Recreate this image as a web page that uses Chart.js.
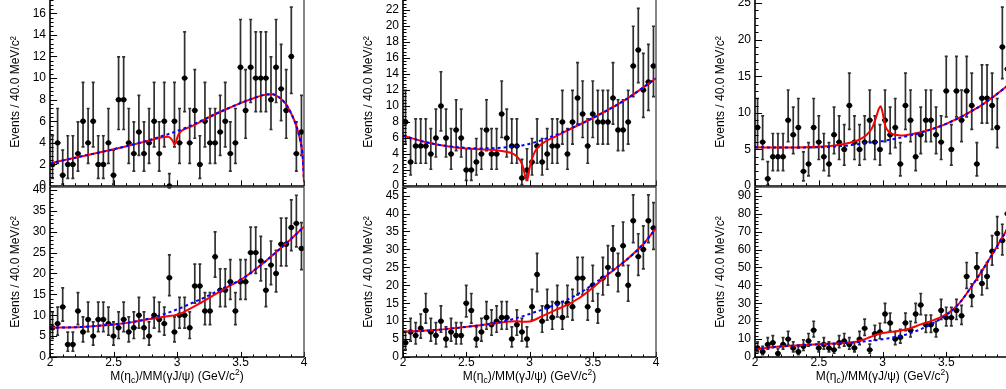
<!DOCTYPE html>
<html>
<head>
<meta charset="utf-8">
<title>M(eta_c) / MM(gamma J/psi) fits</title>
<script src="https://cdn.jsdelivr.net/npm/chart.js@4.4.0/dist/chart.umd.min.js"></script>
<style>
  html, body { margin: 0; padding: 0; background: #fff; }
  body { width: 1006px; height: 389px; overflow: hidden; position: relative; }
  canvas { position: absolute; }
</style>
</head>
<body>
<canvas id="pA"></canvas>
<canvas id="pB"></canvas>
<canvas id="pC"></canvas>
<canvas id="pD"></canvas>
<canvas id="pE"></canvas>
<canvas id="pF"></canvas>
<script>
// bin centres, 40 MeV bins from 2.0 to 4.0 GeV
const binX = [2.02, 2.06, 2.10, 2.14, 2.18, 2.22, 2.26, 2.30, 2.34, 2.38,
              2.42, 2.46, 2.50, 2.54, 2.58, 2.62, 2.66, 2.70, 2.74, 2.78,
              2.82, 2.86, 2.90, 2.94, 2.98, 3.02, 3.06, 3.10, 3.14, 3.18,
              3.22, 3.26, 3.30, 3.34, 3.38, 3.42, 3.46, 3.50, 3.54, 3.58,
              3.62, 3.66, 3.70, 3.74, 3.78, 3.82, 3.86, 3.90, 3.94, 3.98];
const binHalfWidth = 0.02;
const xTicks = [2, 2.5, 3, 3.5, 4];

// left column, top
const countsA = [2, 4, 1, 2, 2, 3, 6, 4, 6, 2, 2, 4, 1, 8, 8, 4, 3, 5, 3, 4, 6, 3, 6, 0, 6,
                 4, 10, 4, 7, 2, 6, 4, 4, 5, 6, 3, 4, 11, 7, 11, 10, 10, 10, 8, 11, 9, 7, 12, 3, 5];
const yTicksA = [0, 2, 4, 6, 8, 10, 12, 14, 16];
const curveXA = [2.00, 2.25, 2.50, 2.75, 2.85, 2.90, 2.93, 2.95, 2.97, 2.98, 2.99, 3.00, 3.01, 3.03, 3.06, 3.10,
                 3.15, 3.20, 3.30, 3.40, 3.50, 3.60, 3.68, 3.75, 3.80, 3.85, 3.90, 3.94, 3.97, 3.99, 4.00];
const bkgA = [2.10, 2.75, 3.40, 4.15, 4.50, 4.70, 4.80, 4.88, 4.96, 5.00, 5.05, 5.10, 5.14, 5.22, 5.36, 5.55,
              5.82, 6.10, 6.65, 7.18, 7.68, 8.12, 8.42, 8.50, 8.25, 7.70, 6.70, 5.55, 4.25, 2.70, 0.40];
const totA = [2.10, 2.75, 3.40, 4.12, 4.42, 4.55, 4.56, 4.42, 4.10, 3.88, 4.00, 4.40, 4.72, 5.05, 5.28, 5.45,
              5.74, 6.06, 6.65, 7.18, 7.68, 8.12, 8.42, 8.50, 8.25, 7.70, 6.70, 5.55, 4.25, 2.70, 0.40];

// left column, bottom
const countsB = [7, 8, 12, 3, 3, 11, 6, 9, 5, 9, 9, 8, 5, 7, 9, 6, 7, 10, 7, 5, 10, 9, 8, 19, 6,
                 10, 10, 7, 17, 17, 11, 11, 24, 16, 16, 18, 11, 18, 18, 25, 25, 23, 16, 22, 20, 27, 27, 31, 32, 26];
const yTicksB = [0, 5, 10, 15, 20, 25, 30, 35, 40];
const curveXB = [2.00, 2.25, 2.50, 2.65, 2.75, 2.85, 2.90, 2.95, 3.00, 3.05,
                 3.10, 3.20, 3.30, 3.40, 3.50, 3.60, 3.70, 3.80, 3.90, 4.00];
const bkgB = [7.0, 7.2, 7.8, 8.4, 9.0, 9.8, 10.3, 10.8, 11.4, 12.0,
              12.7, 14.0, 15.5, 17.0, 18.5, 20.6, 23.0, 25.6, 28.3, 31.2];
const totB = [7.0, 7.2, 7.8, 8.35, 8.9, 9.4, 9.65, 9.85, 10.1, 10.7,
              11.5, 13.2, 15.0, 16.8, 18.4, 20.6, 23.0, 25.6, 28.3, 31.2];

// middle column, top
const countsC = [8, 3, 5, 5, 5, 4, 6, 10, 6, 4, 7, 6, 2, 2, 3, 4, 7, 4, 4, 9, 6, 5, 5, 1, 2,
                 3, 5, 3, 4, 5, 5, 8, 4, 8, 11, 9, 5, 9, 8, 8, 8, 11, 7, 7, 8, 15, 17, 12, 13, 15];
const yTicksC = [0, 2, 4, 6, 8, 10, 12, 14, 16, 18, 20, 22];
const curveXC = [2.00, 2.20, 2.40, 2.60, 2.75, 2.85, 2.90, 2.93, 2.95, 2.96, 2.97,
                 2.98, 2.99, 3.00, 3.02, 3.05, 3.10, 3.20, 3.30, 3.50, 3.75, 4.00];
const bkgC = [6.3, 5.4, 4.9, 4.7, 4.75, 4.88, 4.98, 5.05, 5.1, 5.13, 5.16,
              5.2, 5.23, 5.27, 5.35, 5.5, 5.75, 6.35, 7.0, 8.5, 10.7, 13.45];
const totC = [6.3, 5.4, 4.85, 4.6, 4.45, 4.15, 3.7, 3.1, 2.3, 1.6, 1.0,
              0.75, 1.2, 2.2, 3.4, 4.5, 5.3, 6.15, 6.95, 8.5, 10.7, 13.45];

// middle column, bottom
const countsD = [4, 7, 6, 8, 13, 7, 6, 10, 5, 7, 6, 6, 15, 13, 5, 7, 11, 9, 10, 11, 11, 5, 9, 7, 5,
                 14, 23, 10, 14, 11, 15, 11, 15, 14, 22, 22, 14, 20, 13, 22, 25, 30, 23, 31, 20, 38, 28, 30, 38, 36];
const yTicksD = [0, 5, 10, 15, 20, 25, 30, 35, 40, 45];
const curveXD = [2.00, 2.25, 2.50, 2.75, 2.85, 2.90, 2.95, 3.00, 3.10, 3.20, 3.30, 3.40, 3.50, 3.60, 3.75, 3.90, 4.00];
const bkgD = [7.0, 7.5, 8.4, 9.6, 10.4, 10.9, 11.4, 12.0, 13.2, 14.5, 16.0, 17.9, 20.2, 22.7, 26.6, 31.5, 35.9];
const totD = [7.0, 7.5, 8.4, 9.5, 9.9, 9.95, 9.85, 9.9, 11.4, 13.0, 14.6, 16.6, 19.3, 22.4, 26.6, 31.5, 35.9];

// right column, top
const countsE = [8, 6, 1, 4, 4, 4, 9, 7, 8, 2, 3, 8, 6, 4, 3, 7, 6, 5, 11, 6, 5, 6, 9, 6, 5,
                 9, 7, 8, 3, 11, 9, 4, 7, 9, 9, 7, 6, 13, 5, 13, 9, 13, 11, 3, 12, 12, 11, 8, 19, 16];
const yTicksE = [0, 5, 10, 15, 20, 25];
const curveXE = [2.00, 2.25, 2.50, 2.70, 2.80, 2.87, 2.92, 2.95, 2.97, 2.985, 3.00,
                 3.02, 3.05, 3.10, 3.15, 3.20, 3.30, 3.50, 3.75, 3.90, 4.00];
const bkgE = [5.3, 5.25, 5.3, 5.5, 5.7, 5.85, 5.95, 6.0, 6.05, 6.1, 6.12,
              6.2, 6.3, 6.45, 6.65, 6.85, 7.3, 8.5, 10.75, 12.6, 14.0];
const totE = [5.3, 5.25, 5.35, 5.75, 6.2, 6.9, 8.0, 9.4, 10.5, 10.9, 10.1,
              8.3, 7.4, 7.0, 6.9, 7.0, 7.35, 8.5, 10.75, 12.6, 14.0];

// right column, bottom
const countsF = [5, 3, 7, 8, 2, 7, 10, 5, 3, 6, 9, 15, 5, 7, 5, 4, 8, 9, 7, 5, 10, 16, 4, 13, 14,
                 24, 19, 10, 11, 19, 15, 24, 29, 18, 18, 15, 26, 22, 22, 26, 23, 45, 34, 50, 41, 45, 59, 69, 65, 80];
const yTicksF = [0, 10, 20, 30, 40, 50, 60, 70, 80, 90];
const curveXF = [2.00, 2.10, 2.25, 2.50, 2.75, 2.80, 2.85, 2.90, 2.95, 3.00, 3.05,
                 3.10, 3.20, 3.30, 3.40, 3.50, 3.60, 3.70, 3.80, 3.90, 4.00];
const bkgF = [4.0, 5.2, 6.1, 7.1, 8.0, 8.3, 8.6, 9.0, 9.4, 9.9, 10.5,
              11.2, 12.9, 15.5, 19.0, 23.4, 29.8, 39.5, 50.3, 62.0, 74.0];
const totF = [4.0, 5.2, 6.1, 7.1, 8.1, 8.6, 9.6, 11.0, 12.4, 13.4, 13.9,
              14.2, 15.6, 18.2, 20.6, 23.8, 29.8, 39.5, 50.3, 62.0, 74.0];

const yTitle = 'Events / 40.0 MeV/c\u00b2';
const xTitleParts = [['M(\u03b7', 0], ['c', -1], [')/MM(\u03b3J/\u03c8) (GeV/c', 0], ['2', 1], [')', 0]];

const FONT = '"Liberation Sans", Arial, Helvetica, sans-serif';

// Poisson (Garwood-like) 68% interval on a bin count, as RooFit draws it
function poissonLo(n) { return n === 0 ? 0 : n * Math.pow(1 - 1 / (9 * n) - 1 / (3 * Math.sqrt(n)), 3); }
function poissonHi(n) { return n === 0 ? 1.15 : n + 1 + Math.sqrt(n + 0.75); }

function zip(xs, ys) { return xs.map((x, i) => ({x: x, y: ys[i]})); }

const errorBars = {
  id: 'errorBars',
  beforeDatasetsDraw(chart) {
    const {ctx, chartArea: a, scales: {x, y}} = chart;
    const pts = chart.data.datasets[2].data;
    ctx.save();
    ctx.beginPath();
    ctx.rect(a.left, a.top, a.right - a.left, a.bottom - a.top);
    ctx.clip();
    ctx.strokeStyle = '#303030';
    ctx.lineWidth = 1.7;
    ctx.beginPath();
    pts.forEach(p => {
      const px = x.getPixelForValue(p.x);
      const py = y.getPixelForValue(p.y);
      const lo = y.getPixelForValue(poissonLo(p.y));
      const hi = y.getPixelForValue(poissonHi(p.y));
      ctx.moveTo(px, lo); ctx.lineTo(px, hi);
      ctx.moveTo(px - 1.5, lo); ctx.lineTo(px + 1.5, lo);
      ctx.moveTo(px - 1.5, hi); ctx.lineTo(px + 1.5, hi);
      ctx.moveTo(x.getPixelForValue(p.x - binHalfWidth) - 0.5, py);
      ctx.lineTo(x.getPixelForValue(p.x + binHalfWidth) + 0.5, py);
    });
    ctx.stroke();
    ctx.restore();
  }
};

function drawXTitle(ctx, cx, base) {
  let w = 0;
  xTitleParts.forEach(([t, k]) => {
    ctx.font = (k === 0 ? 12 : 8.5) + 'px ' + FONT;
    w += ctx.measureText(t).width;
  });
  let xx = cx - w / 2;
  ctx.fillStyle = '#000';
  ctx.textBaseline = 'alphabetic';
  ctx.textAlign = 'left';
  xTitleParts.forEach(([t, k]) => {
    ctx.font = (k === 0 ? 12 : 8.5) + 'px ' + FONT;
    const dy = k < 0 ? 3 : (k > 0 ? -5 : 0);
    ctx.fillText(t, xx, base + dy);
    xx += ctx.measureText(t).width;
  });
}

const rootFrame = {
  id: 'rootFrame',
  afterDraw(chart, args, o) {
    const {ctx, chartArea: a, scales: {x, y}} = chart;
    ctx.save();
    ctx.strokeStyle = '#000';
    ctx.lineWidth = 1;
    ctx.beginPath();
    const yLen = 0.028 * (a.right - a.left);
    for (let i = 0; i * o.yMinor <= y.max + 1e-9; i++) {
      const v = i * o.yMinor;
      const major = o.yTicks.some(t => Math.abs(t - v) < 1e-6);
      const py = Math.round(y.getPixelForValue(v)) + 0.5;
      ctx.moveTo(a.left, py);
      ctx.lineTo(a.left + (major ? yLen : yLen / 2), py);
    }
    const xLen = 0.03 * (a.bottom - a.top);
    for (let i = 0; i <= 20; i++) {
      const v = 2 + i * 0.1;
      const major = xTicks.some(t => Math.abs(t - v) < 1e-6);
      const px = Math.round(x.getPixelForValue(v)) + 0.5;
      ctx.moveTo(px, a.bottom);
      ctx.lineTo(px, a.bottom - (major ? xLen : xLen / 2));
    }
    ctx.stroke();

    // frame: axis sides darker, far sides lighter
    ctx.strokeStyle = '#444';
    ctx.lineWidth = 1.3;
    ctx.beginPath();
    ctx.moveTo(a.left, a.top); ctx.lineTo(a.right, a.top); ctx.lineTo(a.right, a.bottom);
    ctx.stroke();
    ctx.strokeStyle = '#000';
    ctx.lineWidth = 1.6;
    ctx.beginPath();
    ctx.moveTo(a.left, a.top); ctx.lineTo(a.left, a.bottom); ctx.lineTo(a.right, a.bottom);
    ctx.stroke();

    if (o.xTitle) drawXTitle(ctx, (a.left + a.right) / 2, o.xTitleBase);
    ctx.restore();
  }
};

function makePanel(p) {
  const cv = document.getElementById(p.id);
  cv.width = p.w;
  cv.height = p.h;
  cv.style.left = p.left + 'px';
  cv.style.top = p.top + 'px';
  return new Chart(cv, {
    type: 'scatter',
    data: {
      datasets: [
        {type: 'line', data: zip(p.cx, p.bkg), borderColor: '#0000ff', borderWidth: 2, borderDash: [3, 3],
         pointRadius: 0, fill: false, cubicInterpolationMode: 'monotone'},
        {type: 'line', data: zip(p.cx, p.tot), borderColor: '#ff0000', borderWidth: 2,
         pointRadius: 0, fill: false, cubicInterpolationMode: 'monotone'},
        {type: 'scatter', data: zip(binX, p.counts), pointRadius: 2.7, pointBorderWidth: 0,
         pointBackgroundColor: '#000', clip: 4}
      ]
    },
    options: {
      responsive: false,
      animation: false,
      events: [],
      layout: {padding: {top: p.padTop, right: 8, bottom: 0, left: 0}},
      plugins: {
        legend: {display: false},
        tooltip: {enabled: false},
        rootFrame: {yMinor: p.yMinor, yTicks: p.yTicks, xTitle: p.xLabels, xTitleBase: 200}
      },
      scales: {
        x: {
          type: 'linear', min: 2, max: 4,
          grid: {display: false, drawTicks: false}, border: {display: false},
          ticks: {display: p.xLabels, autoSkip: false, maxRotation: 0, padding: -2,
                  color: '#000', font: {family: FONT, size: 12}, callback: v => String(v)},
          afterBuildTicks: s => { s.ticks = xTicks.map(v => ({value: v})); },
          afterFit: s => { s.height = p.xAxisH; s.paddingLeft = 0; s.paddingRight = 0; }
        },
        y: {
          type: 'linear', min: 0, max: p.yMax,
          grid: {display: false, drawTicks: false}, border: {display: false},
          ticks: {autoSkip: false, padding: 4, color: '#000', font: {family: FONT, size: 12},
                  callback: v => String(v)},
          title: {display: true, text: yTitle, color: '#000', font: {family: FONT, size: 12},
                  padding: {top: 8, bottom: 0}},
          afterBuildTicks: s => { s.ticks = p.yTicks.map(v => ({value: v})); },
          afterFit: s => { s.width = 50; s.paddingTop = 0; s.paddingBottom = 0; }
        }
      }
    },
    plugins: [errorBars, rootFrame]
  });
}

const topRow = {top: -10, h: 206, padTop: 8, xAxisH: 10, xLabels: false};
const bottomRow = {top: 180, h: 209, padTop: 7, xAxisH: 32, xLabels: true};

[
  Object.assign({id: 'pA', left: 0, w: 312, yMax: 17.42, yMinor: 0.4, yTicks: yTicksA,
                 counts: countsA, cx: curveXA, bkg: bkgA, tot: totA}, topRow),
  Object.assign({id: 'pB', left: 0, w: 312, yMax: 40.7, yMinor: 1, yTicks: yTicksB,
                 counts: countsB, cx: curveXB, bkg: bkgB, tot: totB}, bottomRow),
  Object.assign({id: 'pC', left: 353, w: 311, yMax: 23.5, yMinor: 0.4, yTicks: yTicksC,
                 counts: countsC, cx: curveXC, bkg: bkgC, tot: totC}, topRow),
  Object.assign({id: 'pD', left: 353, w: 311, yMax: 47.4, yMinor: 1, yTicks: yTicksD,
                 counts: countsD, cx: curveXD, bkg: bkgD, tot: totD}, bottomRow),
  Object.assign({id: 'pE', left: 705, w: 313, yMax: 25.7, yMinor: 1, yTicks: yTicksE,
                 counts: countsE, cx: curveXE, bkg: bkgE, tot: totE}, topRow),
  Object.assign({id: 'pF', left: 705, w: 313, yMax: 94.9, yMinor: 2, yTicks: yTicksF,
                 counts: countsF, cx: curveXF, bkg: bkgF, tot: totF}, bottomRow)
].forEach(makePanel);
</script>
</body>
</html>
